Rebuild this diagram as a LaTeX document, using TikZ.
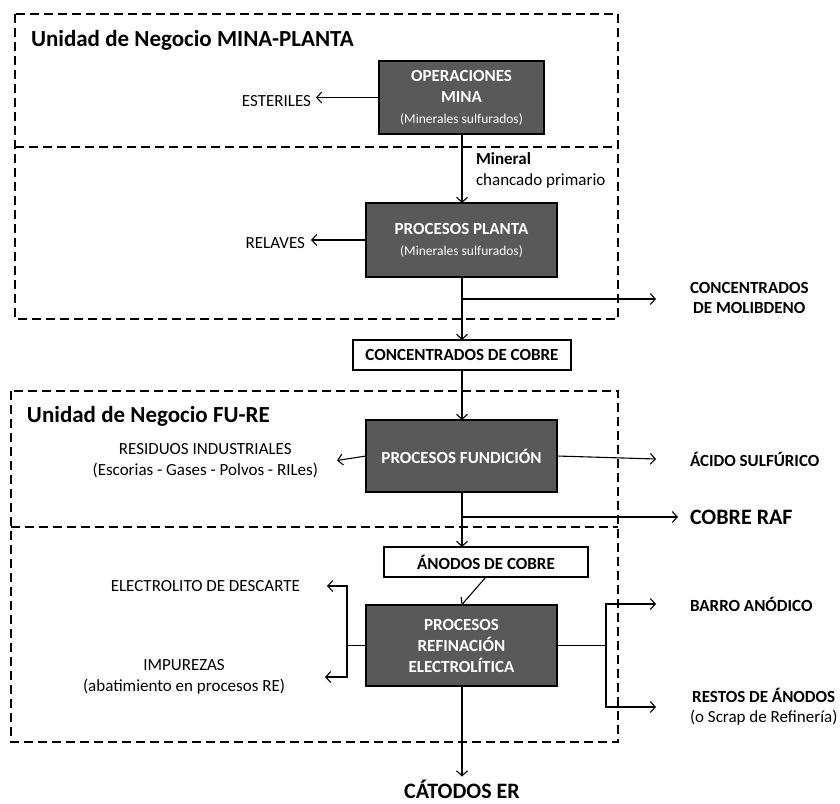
\documentclass[tikz,border=0pt]{standalone}
\usepackage{fontspec}
\setmainfont{Carlito}
\usetikzlibrary{arrows.meta}
\definecolor{procgray}{RGB}{89,89,89}
\begin{document}
\begin{tikzpicture}[x=1pt,y=-1pt,
  every node/.style={inner sep=0pt, outer sep=0pt},
  proc/.style={draw=black, line width=2pt, fill=procgray, text=white, align=center, font=\fontsize{17}{21}\selectfont\bfseries},
  wbox/.style={draw=black, line width=2pt, fill=white, font=\fontsize{17}{21}\selectfont\bfseries},
  lbl/.style={align=center, font=\fontsize{17}{21}\selectfont},
  rlbl/.style={anchor=west, inner xsep=34pt, align=center, font=\fontsize{17}{20}\selectfont\bfseries},
  big/.style={font=\fontsize{22}{26}\selectfont\bfseries},
  title/.style={anchor=west, font=\fontsize{23}{27}\selectfont\bfseries},
  zone/.style={draw=black, line width=1.6pt, dash pattern=on 9pt off 5pt},
  flow/.style={line width=1.1pt, -{Straight Barb[length=5pt,width=11pt]}},
  link/.style={line width=1.1pt}]

\useasboundingbox (0,0) rectangle (840,803);

% business-unit zones
\draw[zone] (15,14) rectangle (618,319);
\draw[zone] (15,147) -- (618,147);
\draw[zone] (11,391) rectangle (618,742);
\draw[zone] (11,527) -- (618,527);

\node[title] (t1) at (31,40) {Unidad de Negocio MINA-PLANTA};
\node[title] (t2) at (27,416) {Unidad de Negocio FU-RE};

% process boxes
\node[proc, minimum width=165pt, minimum height=73pt] (mina) at (461.5,97.5)
  {OPERACIONES\\MINA\\{\fontsize{13.5}{19}\selectfont\mdseries (Minerales sulfurados)}};
\node[proc, minimum width=191pt, minimum height=74pt] (planta) at (461.5,240)
  {PROCESOS PLANTA\\{\fontsize{13.5}{19}\selectfont\mdseries (Minerales sulfurados)}};
\node[wbox, minimum width=218pt, minimum height=30pt] (cu) at (462,355) {CONCENTRADOS DE COBRE};
\node[proc, minimum width=191pt, minimum height=72pt] (fund) at (461.5,456) {PROCESOS FUNDICIÓN};
\node[wbox, minimum width=204pt, minimum height=30pt] (anod) at (486,562) {ÁNODOS DE COBRE};
\node[proc, minimum width=191pt, minimum height=81pt] (refin) at (461.5,645.5)
  {PROCESOS\\REFINACIÓN\\ELECTROLÍTICA};

% labels
\node[lbl, anchor=east, inner xsep=5pt] (est) at (316,101) {ESTERILES};
\node[lbl, anchor=east, inner xsep=6pt] (rel) at (311,243) {RELAVES};
\node[anchor=west, font=\fontsize{17}{21}\selectfont\bfseries] (mineral) at (476,159) {Mineral};
\node[anchor=west, font=\fontsize{17}{21}\selectfont] (chanc) at (476,181) {chancado primario};
\node[rlbl] (moli) at (656,298) {CONCENTRADOS\\DE MOLIBDENO};
\node[lbl, anchor=east, inner xsep=19pt] (res) at (337,460.5) {RESIDUOS INDUSTRIALES\\(Escorias - Gases - Polvos - RILes)};
\node[rlbl] (acido) at (656,459) {ÁCIDO SULFÚRICO};
\node[big, anchor=west, inner xsep=12pt] (raf) at (678,517) {COBRE RAF};
\node[lbl, anchor=east, inner xsep=27pt] (elec) at (327,586) {ELECTROLITO DE DESCARTE};
\node[lbl, anchor=east, inner xsep=40pt] (imp) at (325,677) {IMPUREZAS\\(abatimiento en procesos RE)};
\node[rlbl] (barro) at (656,604) {BARRO ANÓDICO};
\node[rlbl] (restos) at (656,707) {RESTOS DE ÁNODOS\\{\mdseries (o Scrap de Refinería)}};
\node[big, anchor=base] (cat) at (462,798) {CÁTODOS ER};

% junctions
\coordinate (b1) at (462,299);
\coordinate (b2) at (462,517);
\coordinate (lj) at (347,645.5);
\coordinate (rj) at (606,645.5);

% connectors
\draw[flow] (mina.west) -- (mina.west -| est.east);
\draw[flow] (planta.west) -- (planta.west -| rel.east);
\draw[flow] (462,134) -- (planta.north -| 462,0);
\draw[flow] (planta.south -| 462,0) -- (cu.north);
\draw[flow] (b1) -- (b1 -| moli.west);
\draw[flow] (cu.south) -- (fund.north -| 462,0);
\draw[flow] (fund.west) -- (res.east);
\draw[flow] (fund.east) -- (acido.west);
\draw[flow] (fund.south -| 462,0) -- (anod.north -| 462,0);
\draw[flow] (b2) -- (raf.west);
\draw[flow] (anod.south) -- (refin.north);
\draw[link] (refin.west) -- (lj);
\draw[flow] (lj) |- (elec.east);
\draw[flow] (lj) |- (imp.east);
\draw[link] (refin.east) -- (rj);
\draw[flow] (rj) |- (barro.west);
\draw[flow] (rj) |- (restos.west);
\draw[flow, shorten >=3pt] (refin.south -| 462,0) -- (cat.north);
\end{tikzpicture}
\end{document}
